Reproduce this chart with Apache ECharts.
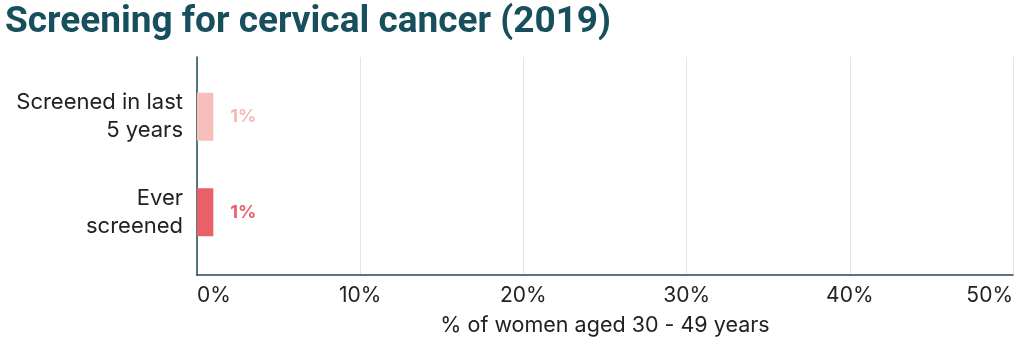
<!DOCTYPE html>
<html><head><meta charset="utf-8">
<script src="https://cdn.jsdelivr.net/npm/echarts@6/dist/echarts.min.js"></script>
<style>html,body{margin:0;padding:0;background:#fff}#c{width:1025px;height:344px}</style>
</head><body><div id="c"></div>
<script>
const title = 'Screening for cervical cancer (2019)';
const categories = ['Screened in last\n5 years', 'Ever screened'];
const categoryLabels = ['Screened in last\n5 years', 'Ever\nscreened'];
const values = [1, 1];
const barColors = ['#f6bfbb', '#ea6068'];
const labelColors = ['#f5b9b5', '#e8606a'];
const xTicks = [0, 10, 20, 30, 40, 50];
const xName = '% of women aged 30 - 49 years';

const chart = echarts.init(document.getElementById('c'), null, {renderer: 'canvas'});
const font = 'Inter, "Noto Sans", sans-serif';
chart.setOption({
  animation: false,
  title: {text: title, left: 0, top: -1, textStyle: {fontFamily: 'Roboto, sans-serif', fontWeight: 'bold', fontSize: 37, color: '#174f5c'}},
  grid: [
    {left: 197, right: 12, top: 57, bottom: 69},
    {left: 197, right: 12, top: 69, bottom: 84}
  ],
  xAxis: [
    {gridIndex: 0, type: 'value', min: xTicks[0], max: xTicks[xTicks.length-1], interval: 10,
     axisLine: {show: true, lineStyle: {color: '#1d4b57', width: 1.5}}, axisTick: {show: false},
     splitLine: {show: true, lineStyle: {color: '#e4e4e4', width: 1}},
     axisLabel: {formatter: v => v + '%', fontFamily: font, fontSize: 21, color: '#222', margin: 10, alignMinLabel: 'left', alignMaxLabel: 'right'},
     name: xName, nameLocation: 'middle', nameGap: 40, nameTextStyle: {fontFamily: font, fontSize: 21.5, color: '#222'}},
    {gridIndex: 1, type: 'value', min: xTicks[0], max: xTicks[xTicks.length-1], show: false}
  ],
  yAxis: [
    {gridIndex: 0, type: 'value', min: 0, max: 1, axisLine: {show: true, lineStyle: {color: '#1d4b57', width: 1.5}},
     axisTick: {show: false}, axisLabel: {show: false}, splitLine: {show: false}},
    {gridIndex: 1, type: 'category', inverse: true, data: categories,
     axisLine: {show: false}, axisTick: {show: false},
     axisLabel: {formatter: (v, i) => categoryLabels[i], fontFamily: font, fontSize: 22, lineHeight: 28, color: '#222', margin: 14, align: 'right', padding: [4, 0, 0, 0]}}
  ],
  series: [{
    type: 'bar', xAxisIndex: 1, yAxisIndex: 1, barWidth: 48,
    data: values.map((v, i) => ({value: v, itemStyle: {color: barColors[i]}, label: {color: labelColors[i]}})),
    label: {show: true, position: 'right', distance: 17, formatter: p => p.value + '%', fontFamily: font, fontWeight: 'bold', fontSize: 18, padding: [3, 0, 0, 0]}
  }]
});
</script></body></html>
